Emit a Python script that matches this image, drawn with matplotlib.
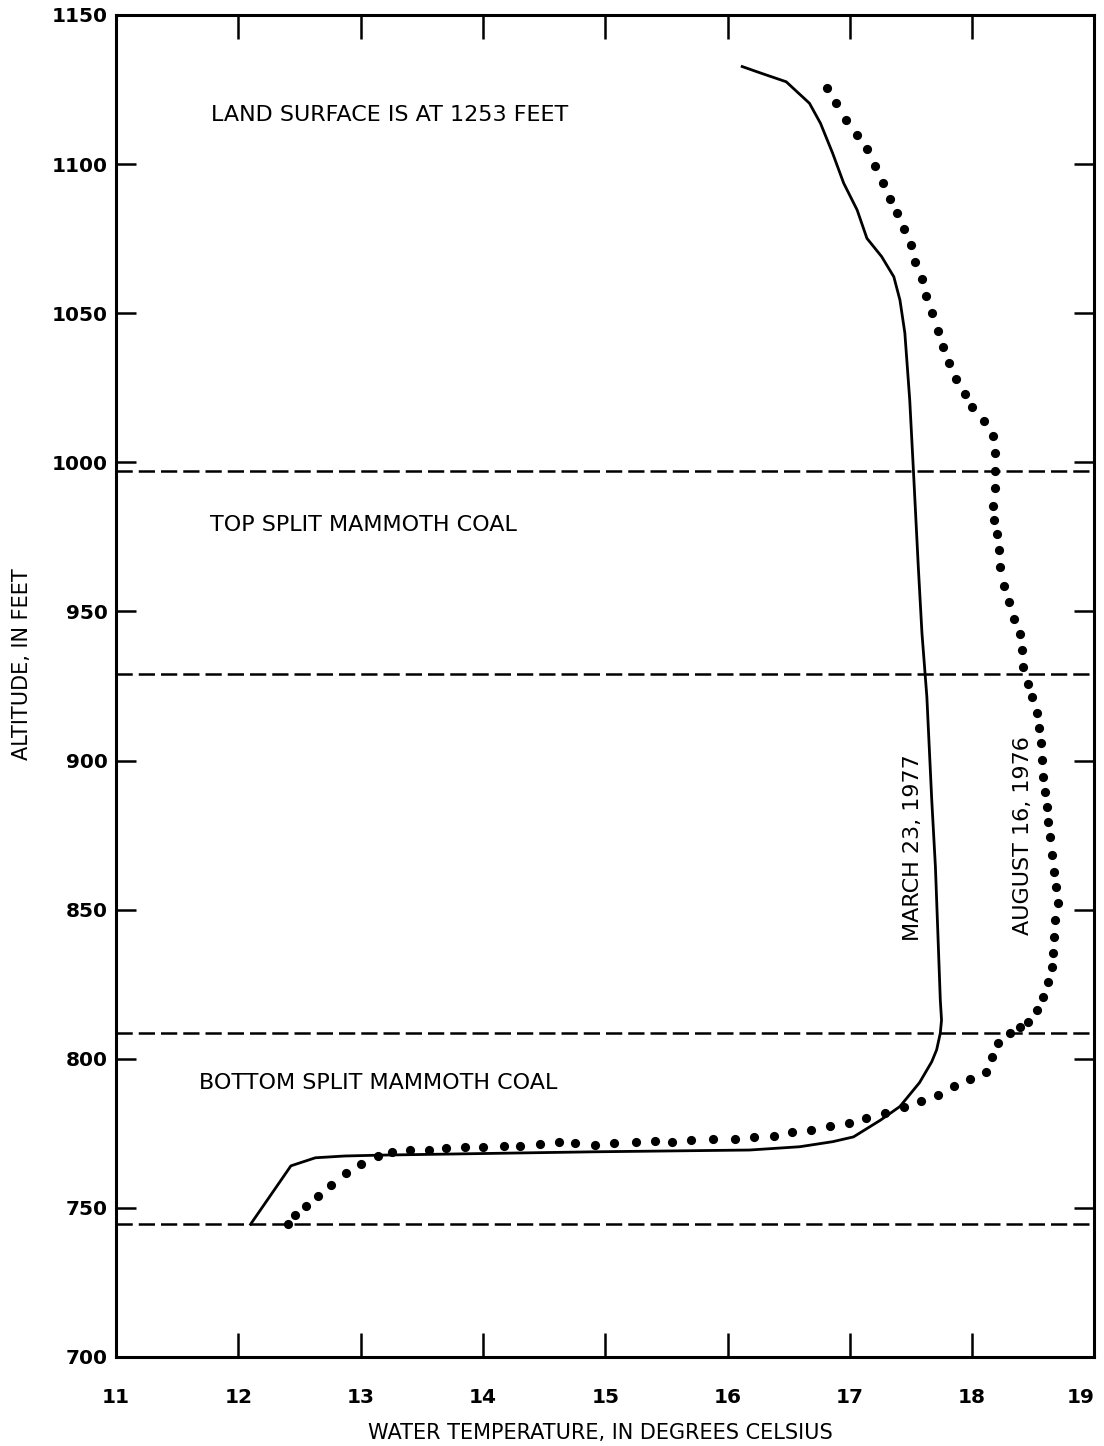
import matplotlib
matplotlib.use('Agg')
import matplotlib.pyplot as plt
import numpy as np

# March 23, 1977 profile (solid line)
march_temp = [16.12, 16.28, 16.48, 16.67, 16.76, 16.86, 16.95, 17.06, 17.14, 17.26,
              17.36, 17.41, 17.45, 17.49, 17.52, 17.56, 17.59, 17.63, 17.67, 17.70,
              17.72, 17.74, 17.75, 17.74, 17.71, 17.67, 17.57, 17.41, 17.25, 17.03,
              16.86, 16.59, 16.18, 14.90, 14.12, 13.18, 12.87, 12.63, 12.43, 12.10]
march_alt = [1132.7, 1130.4, 1127.6, 1120.4, 1113.7, 1103.6, 1093.6, 1084.6, 1075.1, 1069.0,
             1062.2, 1054.4, 1043.4, 1020.9, 997.4, 965.0, 942.7, 921.4, 886.8, 864.4,
             842.2, 819.7, 813.0, 808.6, 803.0, 799.0, 792.0, 784.0, 779.4, 773.8,
             772.2, 770.5, 769.4, 768.8, 768.3, 767.7, 767.4, 766.8, 764.1, 744.5]

# August 16, 1976 profile (dotted)
aug_temp = [16.81, 16.89, 16.97, 17.06, 17.14, 17.21, 17.27, 17.33, 17.39, 17.44,
            17.50, 17.53, 17.59, 17.62, 17.67, 17.72, 17.76, 17.81, 17.87, 17.94,
            18.00, 18.10, 18.17, 18.19, 18.19, 18.19, 18.17, 18.18, 18.20, 18.22,
            18.23, 18.26, 18.30, 18.34, 18.39, 18.41, 18.42, 18.46, 18.49, 18.53,
            18.55, 18.56, 18.57, 18.58, 18.60, 18.61, 18.62, 18.64, 18.65, 18.67,
            18.69, 18.70, 18.68, 18.67, 18.66, 18.65, 18.62, 18.58, 18.53, 18.46,
            18.39, 18.31, 18.21, 18.16, 18.11, 17.98, 17.85, 17.72, 17.58, 17.44,
            17.29, 17.13, 16.99, 16.84, 16.68, 16.53, 16.38, 16.22, 16.06, 15.88,
            15.70, 15.55, 15.41, 15.25, 15.07, 14.92, 14.75, 14.62, 14.47, 14.30,
            14.17, 14.00, 13.85, 13.70, 13.56, 13.40, 13.26, 13.14, 13.00, 12.88,
            12.76, 12.65, 12.55, 12.46, 12.41]
aug_alt = [1125.6, 1120.6, 1114.8, 1109.8, 1105.0, 1099.5, 1093.8, 1088.4, 1083.5, 1078.2,
           1072.9, 1067.3, 1061.5, 1055.9, 1050.0, 1044.1, 1038.8, 1033.2, 1027.9, 1022.9,
           1018.4, 1014.0, 1008.9, 1003.0, 997.1, 991.5, 985.3, 980.7, 975.9, 970.6,
           965.0, 958.6, 953.1, 947.5, 942.3, 937.1, 931.5, 925.6, 921.4, 915.8,
           910.8, 905.8, 900.2, 894.6, 889.5, 884.5, 879.5, 874.4, 868.3, 862.7,
           857.7, 852.1, 846.5, 840.9, 835.3, 830.9, 825.8, 820.8, 816.3, 812.4,
           810.5, 808.5, 805.2, 800.7, 795.6, 793.1, 790.8, 787.8, 785.8, 783.9,
           781.9, 780.0, 778.5, 777.4, 776.1, 775.3, 774.2, 773.7, 773.0, 773.0,
           772.7, 772.2, 772.4, 772.0, 771.6, 771.2, 771.9, 772.2, 771.3, 770.8,
           770.8, 770.5, 770.5, 770.0, 769.4, 769.4, 768.8, 767.5, 764.6, 761.8,
           757.6, 754.0, 750.6, 747.6, 744.7]

# coal bed boundaries
coal_bounds = [997, 929, 808.5, 744.5]

xticks = list(range(11, 20))
yticks = list(range(700, 1151, 50))

fig = plt.figure(figsize=(11.04, 14.46), dpi=100)
ax = fig.add_axes([0.1051, 0.06155, 0.8862, 0.9281])

for b in coal_bounds:
    ax.axhline(b, color='black', lw=1.8, dashes=(6.5, 2.4), zorder=1)

ax.plot(march_temp, march_alt, '-', color='black', lw=2.0, zorder=2)
ax.plot(aug_temp, aug_alt, 'o', color='black', ms=6.6, mew=0, zorder=3)

ax.set_xlim(11, 19)
ax.set_ylim(700, 1150)
ax.set_xticks(xticks)
ax.set_yticks(yticks)
ax.tick_params(axis='x', direction='in', top=True, length=17, width=1.8,
               pad=22, labelsize=14.5)
ax.tick_params(axis='y', direction='in', right=True, length=14.5, width=1.8,
               pad=6, labelsize=14.5)
for lab in ax.get_xticklabels() + ax.get_yticklabels():
    lab.set_fontweight('bold')
ax.get_xticklabels()[-1].set_horizontalalignment('right')
for s in ax.spines.values():
    s.set_linewidth(2.2)

ax.set_xlabel('WATER TEMPERATURE, IN DEGREES CELSIUS', fontsize=15)
ax.xaxis.set_label_coords(0.495, -0.0495)
ax.set_ylabel('ALTITUDE, IN FEET', fontsize=15)
ax.yaxis.set_label_coords(-0.086, 0.516)

txt = dict(fontsize=16, color='black', va='center')
ax.text(13.24, 1116.5, 'LAND SURFACE IS AT 1253 FEET', ha='center', **txt)
ax.text(13.02, 979, 'TOP SPLIT MAMMOTH COAL', ha='center', **txt)
ax.text(13.14, 791.8, 'BOTTOM SPLIT MAMMOTH COAL', ha='center', **txt)
ax.text(17.52, 870.7, 'MARCH 23, 1977', ha='center', rotation=90, **txt)
ax.text(18.42, 874.7, 'AUGUST 16, 1976', ha='center', rotation=90, **txt)

fig.savefig('out.png', dpi=100)
